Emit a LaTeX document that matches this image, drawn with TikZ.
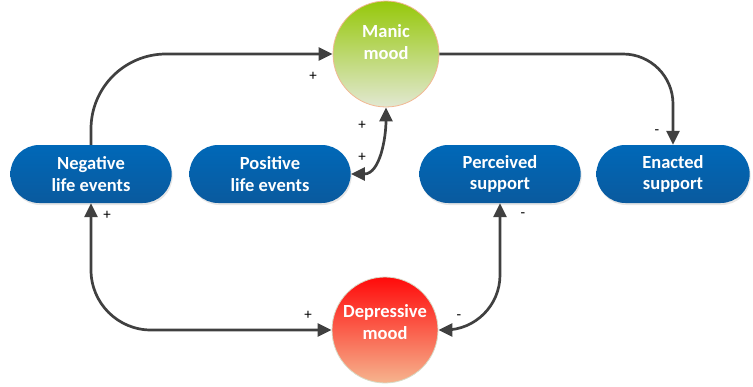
\documentclass[tikz,border=0pt]{standalone}
\usepackage{fontspec}
\setmainfont{Carlito}
\usetikzlibrary{shapes.misc,shadows,arrows.meta}

\definecolor{pilltop}{HTML}{0068B8}
\definecolor{pillbot}{HTML}{0A5A9E}
\definecolor{manictop}{HTML}{96C80A}
\definecolor{manicbot}{HTML}{E2E8D2}
\definecolor{manicrim}{HTML}{F2B894}
\definecolor{deptop}{HTML}{FF0A0A}
\definecolor{depbot}{HTML}{F6B48E}
\definecolor{deprim}{HTML}{D8DCC8}
\definecolor{linkgray}{HTML}{404040}

\begin{document}
\begin{tikzpicture}[x=1pt,y=-1pt]
    \newcommand{\pillw}{168pt}
    \newcommand{\pillh}{58pt}
    \newcommand{\rowy}{174}
    \newcommand{\rad}{53pt} % radius of the mood circles

    % styles of the boxes, circles and links
    \tikzset{
        pill/.style={
            rounded rectangle,
            minimum width=\pillw,
            minimum height=\pillh,
            top color=pilltop,
            bottom color=pillbot,
            text=white,
            align=center,
            font=\bfseries\fontsize{18.5}{21.5}\selectfont,
            drop shadow={opacity=0.2,shadow xshift=1pt,shadow yshift=-2pt}
            },
        mood/.style={
            circle,
            minimum size=2*\rad,
            inner sep=0pt,
            line width=0.8pt
            },
        moodtext/.style={
            text=white,
            align=center,
            font=\bfseries\fontsize{18.5}{21.5}\selectfont
            },
        link/.style={
            draw=linkgray,
            line width=2.7pt
            },
        sign/.style={font=\fontsize{15}{15}\selectfont},
        >={Triangle[length=14pt,width=13pt]}
    }

    \useasboundingbox (0,0) rectangle (753,386);

    % moods
    \node[mood, draw=manicrim, top color=manictop, bottom color=manicbot,
          label={[moodtext, yshift=12pt]center:Manic\\mood}] (manic) at (386,54) {};
    \node[mood, draw=deprim, top color=deptop, bottom color=depbot,
          label={[moodtext, yshift=8pt]center:Depressive\\mood}] (dep) at (385,330) {};

    % events and support
    \node[pill] (neg) at (91,\rowy) {Negative\\life events};
    \node[pill] (pos) at (270,\rowy) {Positive\\life events};
    \node[pill] (perc) at (500,\rowy) {Perceived\\support};
    \node[pill, minimum width=160pt] (enact) at (673,\rowy) {Enacted\\support};

    % links
    \draw[link, ->, rounded corners=75pt] (neg.north) |- (manic.west);
    \draw[link, ->, rounded corners=50pt] (manic.east) -| (enact.north);
    \draw[link, <->] (pos.east) to[out=0, in=-90] (manic.south);
    \draw[link, <->, rounded corners=60pt] (neg.south) |- (dep.west);
    \draw[link, <->, rounded corners=55pt] (perc.south) |- (dep.east);

    % signs
    \node[sign] (s1) at (313,76) {+};
    \node[sign] (s2) at (657,132) {-};
    \node[sign] (s3) at (362,125) {+};
    \node[sign] (s4) at (362,157) {+};
    \node[sign] (s5) at (107,215) {+};
    \node[sign] (s6) at (308,315) {+};
    \node[sign] (s7) at (523,215) {-};
    \node[sign] (s8) at (459,317) {-};
\end{tikzpicture}
\end{document}
